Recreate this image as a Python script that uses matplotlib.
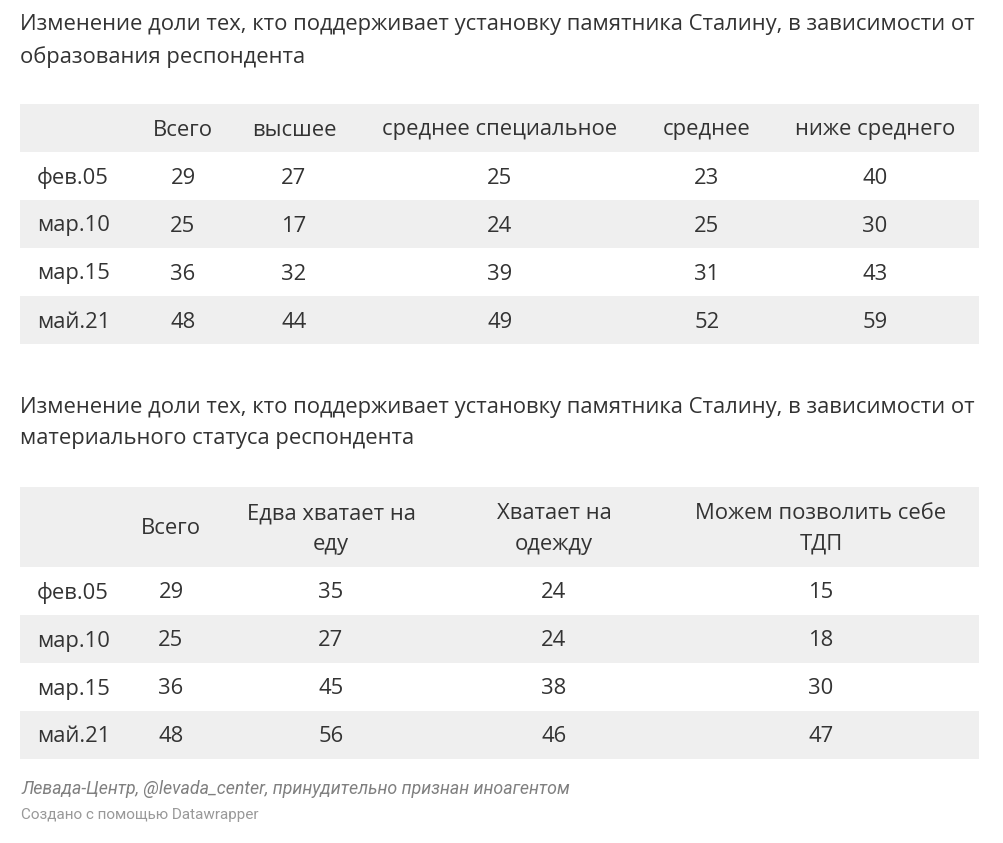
import matplotlib.pyplot as plt
from matplotlib.patches import Rectangle

# данные: образование
dates = ['фев.05', 'мар.10', 'мар.15', 'май.21']
edu_cols = ['Всего', 'высшее', 'среднее специальное', 'среднее', 'ниже среднего']
edu_vals = [
    [29, 27, 25, 23, 40],
    [25, 17, 24, 25, 30],
    [36, 32, 39, 31, 43],
    [48, 44, 49, 52, 59],
]

# данные: материальный статус
mat_cols = ['Всего', 'Едва хватает на\nеду', 'Хватает на\nодежду', 'Можем позволить себе\nТДП']
mat_vals = [
    [29, 35, 24, 15],
    [25, 27, 24, 18],
    [36, 45, 38, 30],
    [48, 56, 46, 47],
]

title1 = 'Изменение доли тех, кто поддерживает установку памятника Сталину, в зависимости от\nобразования респондента'
title2 = 'Изменение доли тех, кто поддерживает установку памятника Сталину, в зависимости от\nматериального статуса респондента'

plt.rcParams['font.family'] = ['Open Sans', 'DejaVu Sans']
txt = '#333333'
gray = '#efefef'
fs = 15.8

fig = plt.figure(figsize=(10.04, 8.43), dpi=100)
ax = fig.add_axes([0, 0, 1, 1])
ax.set_xlim(0, 1004)
ax.set_ylim(843, 0)
ax.axis('off')


def draw_table(top, head_h, row_h, col_x, cols, vals, gray_rows):
    ax.add_patch(Rectangle((20, top), 959, head_h, color=gray, lw=0))
    for cx, c in zip(col_x, cols):
        ax.text(cx, top + head_h / 2 + 2, c, ha='center', va='center', fontsize=fs,
                color=txt, linespacing=1.62)
    y = top + head_h
    for i, (d, row) in enumerate(zip(dates, vals)):
        if i in gray_rows:
            ax.add_patch(Rectangle((20, y), 959, row_h, color=gray, lw=0))
        ax.text(37, y + row_h / 2 + 2, d, ha='left', va='center', fontsize=fs, color=txt)
        for cx, v in zip(col_x, row):
            ax.text(cx, y + row_h / 2 + 2, str(v), ha='center', va='center',
                    fontsize=fs, color=txt)
        y += row_h


ax.text(20, 41, title1, ha='left', va='center', fontsize=fs, color=txt, linespacing=1.62)
draw_table(104, 48, 48, [183, 294, 500, 707, 875], edu_cols, edu_vals, [1, 3])

ax.text(20, 423, title2, ha='left', va='center', fontsize=fs, color=txt, linespacing=1.62)
draw_table(487, 80, 48, [171, 331, 554, 821], mat_cols, mat_vals, [1, 3])

ax.text(21, 789, 'Левада-Центр, @levada_center, принудительно признан иноагентом',
        ha='left', va='center', fontsize=12.8, color='#808080', style='italic',
        family=['Roboto', 'DejaVu Sans'])
ax.text(21, 815, 'Создано с помощью Datawrapper', ha='left', va='center',
        fontsize=11, color='#999999', family=['Roboto', 'DejaVu Sans'])

fig.savefig('out.png', dpi=100, facecolor='white')
